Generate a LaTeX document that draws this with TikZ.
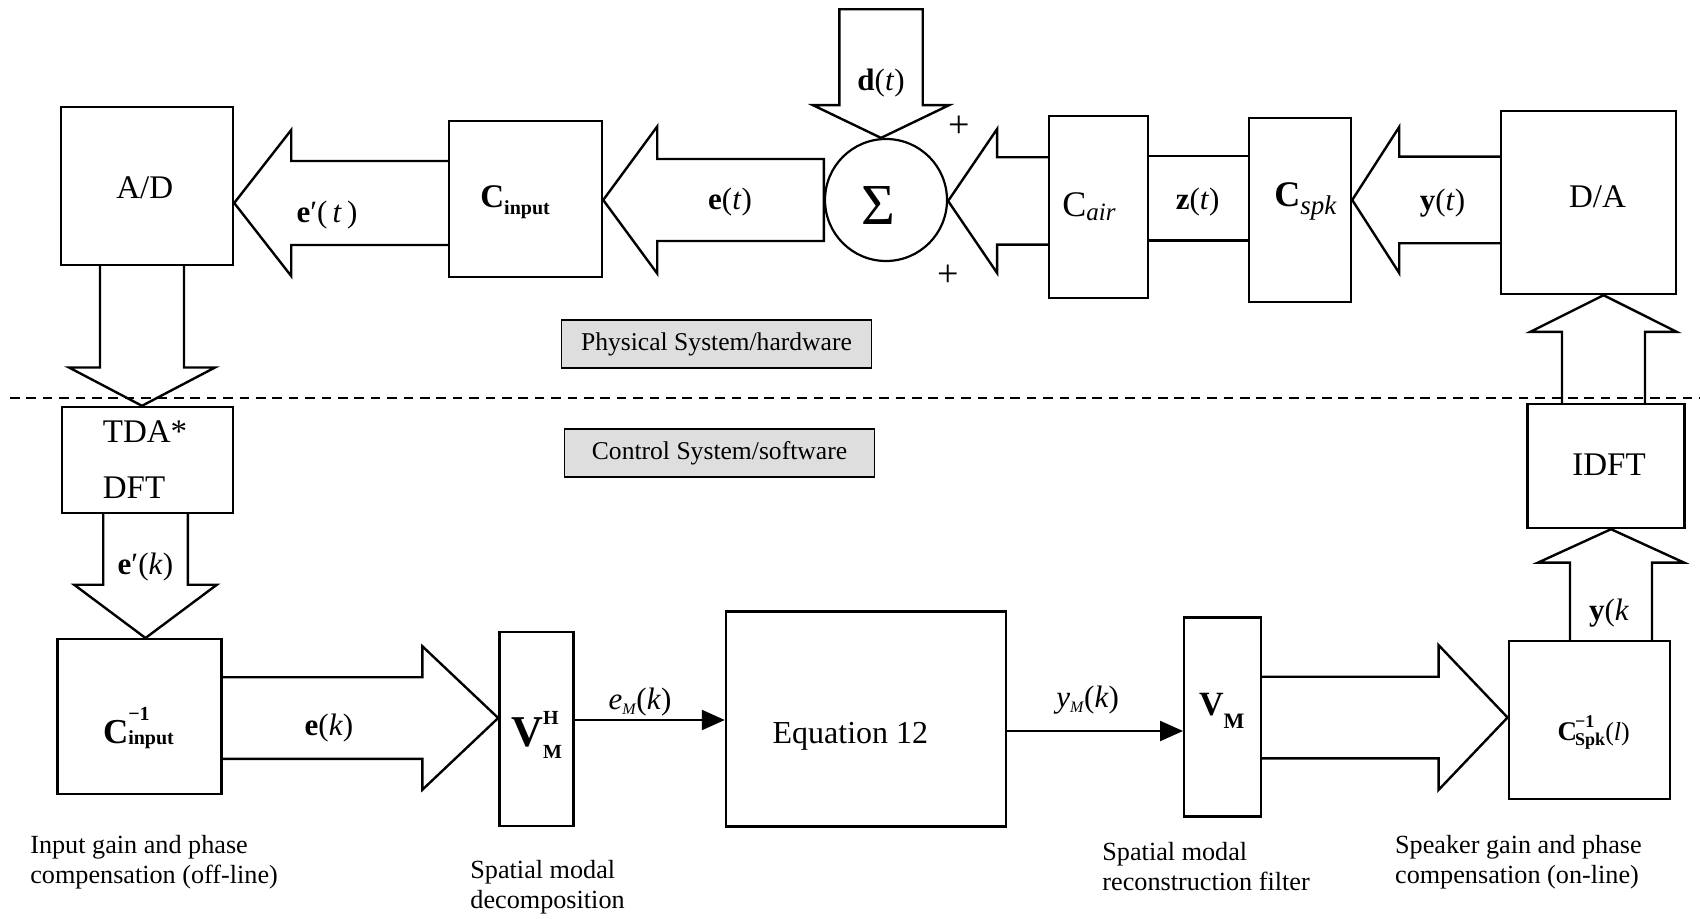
\documentclass[tikz,border=0pt]{standalone}
\usepackage{fontspec}
\setmainfont{Liberation Serif}
\usetikzlibrary{arrows.meta,calc}
\newcommand\fsz[1]{\fontsize{#1}{#1}\selectfont}
\newcommand\ssb[4]{\makebox[0pt][l]{\raisebox{#3}{#1}}\raisebox{-#4}{#2}}
% horizontal block arrow: tip, tail, y centre (px), shaft half, head half, head length (signed), closing
\newcommand\blkH[7]{\draw[blk] let \p1=(#1), \p2=(#2), \p3=(0,#3) in
  (\x2,{\y3+(#4)*0.5pt}) -- ({\x1+(#6)*0.5pt},{\y3+(#4)*0.5pt}) -- ({\x1+(#6)*0.5pt},{\y3+(#5)*0.5pt}) -- (\x1,\y3)
  -- ({\x1+(#6)*0.5pt},{\y3-(#5)*0.5pt}) -- ({\x1+(#6)*0.5pt},{\y3-(#4)*0.5pt}) -- (\x2,{\y3-(#4)*0.5pt}) #7;}
% vertical block arrow: tip, tail, x centre (px), shaft half, head half, head length (signed), closing
\newcommand\blkV[7]{\draw[blk] let \p1=(#1), \p2=(#2), \p3=(#3,0) in
  ({\x3-(#4)*0.5pt},\y2) -- ({\x3-(#4)*0.5pt},{\y1+(#6)*0.5pt}) -- ({\x3-(#5)*0.5pt},{\y1+(#6)*0.5pt}) -- (\x3,\y1)
  -- ({\x3+(#5)*0.5pt},{\y1+(#6)*0.5pt}) -- ({\x3+(#4)*0.5pt},{\y1+(#6)*0.5pt}) -- ({\x3+(#4)*0.5pt},\y2) #7;}
% horizontal segment between two nodes at a given y (px)
\newcommand\hseg[4][]{\draw[#1] let \p1=(#2), \p2=(#3), \p3=(0,#4) in (\x1,\y3) -- (\x2,\y3);}
\begin{document}
\begin{tikzpicture}[x=0.5pt,y=-0.5pt,
  box/.style 2 args={draw,line width=1.2pt,inner sep=0pt,minimum width=#1*0.5pt,minimum height=#2*0.5pt},
  blk/.style={draw,line width=1.2pt,line join=miter},
  lbl/.style={inner sep=0pt,font=\fsz{15.5}},
  boxtxt/.style={inner sep=0pt,font=\fsz{16.5}},
  captxt/.style={inner sep=0pt,anchor=west,align=left,font=\fontsize{13.1}{15}\selectfont},
  tag/.style={draw,line width=0.7pt,fill=black!13,inner sep=0pt,minimum width=155pt,minimum height=24pt,font=\fsz{12.8}},
  sig/.style={line width=1.1pt,-{Triangle[length=11.5pt,width=10pt]}}
]
\useasboundingbox (0,0) rectangle (1700,919);

% ---- boxes ----
\node[box={172}{158}] (AD) at (147,186) {};
\node[box={153}{156}] (Cin) at (525.5,199) {};
\node[circle,draw,line width=1.1pt,inner sep=0pt,minimum size=61pt] (S) at (886,200) {};
\node[box={99}{182}] (Cair) at (1098.5,207) {};
\node[box={102}{184}] (Cspk) at (1300,210) {};
\node[box={175}{183}] (DA) at (1588.5,202.5) {};
\node[tag] (phys) at (716.5,344) {Physical System/hardware};
\node[tag] (ctrl) at (719.5,453) {Control System/software};
\node[box={171}{106}] (TDA) at (147.5,460) {};
\node[box={157}{124}] (IDFT) at (1606,466) {};
\node[box={164}{155}] (Cinv) at (139.3,716.7) {};
\node[box={74}{194}] (VMH) at (536.4,729) {};
\node[box={280}{215}] (Eq) at (866,719) {};
\node[box={76.5}{199}] (VM) at (1222.5,717) {};
\node[box={161.5}{158}] (Cspki) at (1589.5,720) {};
\coordinate (dtop) at (881,9.3);

% ---- dashed separator ----
\coordinate (dl) at (10,398);
\coordinate (dr) at (1700,398);
\draw[dash pattern=on 4.8pt off 3.4pt,line width=0.8pt] (dl) -- (dr);

% ---- block arrows ----
\blkH{AD.east}{Cin.west}{203}{42}{73}{57}{}
\blkH{Cin.east}{S.west}{200}{41}{73.5}{54}{-- cycle}
\blkH{S.east}{Cair.west}{201}{43.7}{72}{49}{}
\hseg[blk]{Cair.east}{Cspk.west}{156}
\hseg[blk]{Cair.east}{Cspk.west}{240.7}
\blkH{Cspk.east}{DA.west}{200}{43.3}{73}{47}{}
\blkV{S.north}{dtop}{881}{41.7}{68}{32.7}{-- cycle}
\blkV{TDA.north}{AD.south}{142}{42}{73}{38.3}{}
\blkV{Cinv.north}{TDA.south}{145.5}{42.3}{71.4}{53.3}{}
\blkH{VMH.west}{Cinv.east}{718}{40.8}{71.7}{-75.8}{}
\blkH{Cspki.west}{VM.east}{717.5}{40.8}{72.3}{-68.9}{}
\blkV{IDFT.south}{Cspki.north}{1611}{41}{73}{-33.4}{}
\blkV{DA.south}{IDFT.north}{1603.5}{41.5}{73.3}{-36.7}{}

% ---- signal lines ----
\hseg[sig]{VMH.east}{Eq.west}{720}
\hseg[sig]{Eq.east}{VM.west}{731}

% ---- texts ----
\node[boxtxt] (tAD) at (144.7,188) {A/D};
\node[inner sep=0pt,anchor=base west] (tCin) at (480,208) {\fsz{16.5}\textbf{C}\raisebox{-3.5pt}{\fsz{10}\textbf{input}}};
\node[lbl] (tS) at (878,206) {\fsz{29}Σ};
\node[lbl] (tp1) at (958.7,126.7) {\fsz{19}+};
\node[lbl] (tp2) at (948,276) {\fsz{19}+};
\node[inner sep=0pt,anchor=base west] (tCair) at (1062,216.7) {\fsz{18}C\raisebox{-2pt}{\fsz{12.5}\textit{air}}};
\node[lbl] (tz) at (1197.6,201.7) {\textbf{z}(\textit{t})};
\node[inner sep=0pt,anchor=base west] (tCspk) at (1274,206.7) {\fsz{18}\textbf{C}\raisebox{-4pt}{\fsz{13.5}\textit{spk}}};
\node[lbl] (ty) at (1442.5,203) {\textbf{y}(\textit{t})};
\node[boxtxt] (tDA) at (1597.5,196.7) {D/A};
\node[lbl] (tet) at (730,202) {\textbf{e}(\textit{t})};
\node[lbl] (tept) at (327,215) {\textbf{e}′(\,\textit{t}\,)};
\node[lbl] (td) at (881,83) {\textbf{d}(\textit{t})};
\node[inner sep=0pt,align=left,font=\fontsize{16.5}{28}\selectfont] (tTDA) at (145,460) {TDA*\\DFT};
\node[lbl] (tepk) at (145.4,566.7) {\textbf{e}′(\textit{k})};
\node[boxtxt] (tIDFT) at (1609,465) {IDFT};
\node[lbl] (tyk) at (1609,613.3) {\textbf{y}(\textit{k}};
\node[inner sep=0pt,anchor=base west] (tCinv) at (102.6,743.3) {\fsz{17.5}\textbf{C}\ssb{\fsz{10}\textbf{−1}}{\fsz{10}\textbf{input}}{11.5pt}{0.5pt}};
\node[lbl] (tek) at (329,728.3) {\textbf{e}(\textit{k})};
\node[inner sep=0pt,anchor=base west] (tVMH) at (510.9,746.7) {\fsz{22}\textbf{V}\ssb{\fsz{10}\textbf{H}}{\fsz{10}\textbf{M}}{11pt}{6pt}};
\node[lbl] (teM) at (640,701.7) {\textit{e}\raisebox{-2.5pt}{\fsz{8}\textit{M}}(\textit{k})};
\node[boxtxt] (tEq) at (850.4,736.7) {\fsz{16}Equation 12};
\node[lbl] (tyM) at (1087.7,700) {\textit{y}\raisebox{-2.5pt}{\fsz{8}\textit{M}}(\textit{k})};
\node[inner sep=0pt,anchor=base west] (tVM) at (1198.7,715) {\fsz{17}\textbf{V}\raisebox{-6.5pt}{\fsz{11}\textbf{M}}};
\node[inner sep=0pt,anchor=base west] (tCspki) at (1557.3,740) {\fsz{13.5}\textbf{C}\hspace{-1pt}\ssb{\fsz{9}\textbf{−1}}{\fsz{9}\textbf{Spk}}{6.5pt}{2.5pt}\fsz{13}(\textit{l})};

\node[captxt] (c1) at (29.9,861.7) {Input gain and phase\\compensation (off-line)};
\node[captxt] (c2) at (470,887.5) {Spatial modal\\decomposition};
\node[captxt] (c3) at (1102,866.7) {Spatial modal\\reconstruction filter};
\node[captxt] (c4) at (1394.7,861.7) {Speaker gain and phase\\compensation (on-line)};
\end{tikzpicture}
\end{document}
